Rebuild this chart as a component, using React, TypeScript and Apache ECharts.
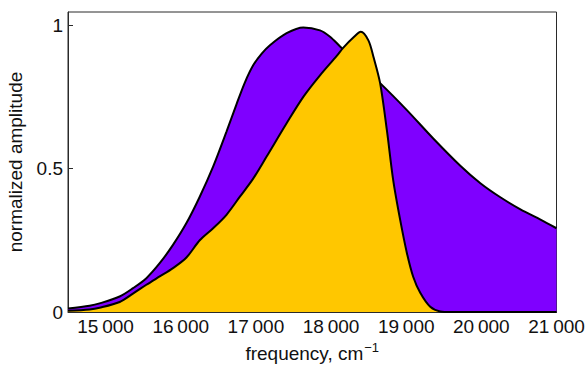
import React, { useEffect, useRef } from "react";
import * as echarts from "echarts";

// Broad (purple) spectrum: frequency (cm^-1) and normalized amplitude
const purpleFreq = [14500, 14787, 14920, 15187, 15364, 15543, 15720, 15897, 16076, 16253, 16431, 16609, 16743, 16853, 16964, 17075, 17187, 17409, 17631, 17853, 17987, 18120, 18350, 18653, 19009, 19360, 19720, 19987, 20253, 20520, 20787, 21000];
const purpleAmp = [0.012, 0.022, 0.03, 0.054, 0.083, 0.118, 0.17, 0.234, 0.31, 0.402, 0.507, 0.629, 0.725, 0.8, 0.86, 0.9, 0.93, 0.972, 0.992, 0.982, 0.96, 0.926, 0.87, 0.798, 0.704, 0.605, 0.51, 0.449, 0.4, 0.358, 0.322, 0.292];

// Narrow (yellow) spectrum
const yellowFreq = [14500, 14787, 14920, 15187, 15364, 15543, 15720, 15897, 16076, 16253, 16431, 16609, 16787, 16964, 17143, 17409, 17631, 17853, 18076, 18164, 18300, 18396, 18497, 18564, 18653, 18743, 18827, 18920, 19009, 19093, 19187, 19320, 19453, 19600, 20000, 21000];
const yellowAmp = [0.004, 0.009, 0.015, 0.035, 0.064, 0.095, 0.124, 0.153, 0.19, 0.25, 0.292, 0.339, 0.402, 0.465, 0.542, 0.658, 0.75, 0.825, 0.893, 0.922, 0.958, 0.977, 0.947, 0.89, 0.798, 0.634, 0.46, 0.321, 0.206, 0.123, 0.067, 0.018, 0.002, 0, 0, 0];

const xTicks = [15000, 16000, 17000, 18000, 19000, 20000, 21000];
const yTicks = [0, 0.5, 1];
const yTickLabels = ["0", "0.5", "1"];

const FONT = "'Liberation Sans', Arial, Helvetica, sans-serif";

export default function App() {
  const ref = useRef<HTMLDivElement>(null);
  useEffect(() => {
    document.body.style.margin = "0";
    const chart = echarts.init(ref.current!, null, { renderer: "svg" });
    const purple = purpleFreq.map((f, i) => [f, purpleAmp[i]]);
    const yellow = yellowFreq.map((f, i) => [f, yellowAmp[i]]);
    chart.setOption({
      animation: false,
      backgroundColor: "#ffffff",
      grid: {
        left: 68,
        right: 29.5,
        top: 12,
        bottom: 58,
        show: true,
        borderColor: "#2a2a2a",
        borderWidth: 1,
        outerBoundsMode: "none",
      },
      xAxis: {
        type: "value",
        min: 14500,
        max: 21000,
        name: "{a|frequency, cm}{b|\u22121}",
        nameLocation: "middle",
        nameGap: 27,
        nameTextStyle: {
          rich: {
            a: { fontFamily: FONT, fontSize: 19, color: "#111" },
            b: { fontFamily: FONT, fontSize: 13, color: "#111", padding: [0, 0, 12, 1] },
          },
        },
        axisLine: { show: true, lineStyle: { color: "#2a2a2a", width: 1 } },
        axisTick: {
          show: true,
          inside: true,
          length: 5,
          customValues: xTicks,
          lineStyle: { color: "#2a2a2a" },
        },
        axisLabel: {
          customValues: xTicks,
          margin: 5,
          fontFamily: FONT,
          fontSize: 19,
          color: "#111",
          formatter: (v: number) => {
            const s = String(v);
            return s.slice(0, s.length - 3) + "\u2009" + s.slice(-3);
          },
        },
        splitLine: { show: false },
      },
      yAxis: {
        type: "value",
        min: 0,
        max: 1.046,
        name: "normalized amplitude",
        nameLocation: "middle",
        nameGap: 43,
        nameTextStyle: { fontFamily: FONT, fontSize: 19, color: "#111" },
        axisLine: { show: true, lineStyle: { color: "#2a2a2a", width: 1 } },
        axisTick: {
          show: true,
          inside: true,
          length: 5,
          customValues: yTicks,
          lineStyle: { color: "#2a2a2a" },
        },
        axisLabel: {
          customValues: yTicks,
          margin: 5,
          fontFamily: FONT,
          fontSize: 19,
          color: "#111",
          formatter: (v: number) => {
            const i = yTicks.indexOf(v);
            return i >= 0 ? yTickLabels[i] : "";
          },
        },
        splitLine: { show: false },
      },
      series: [
        {
          type: "line",
          data: purple,
          smooth: 0.3,
          symbol: "none",
          lineStyle: { color: "#000", width: 2 },
          areaStyle: { color: "#7f00ff", opacity: 1 },
          z: 2,
        },
        {
          type: "line",
          data: yellow,
          smooth: 0.3,
          symbol: "none",
          lineStyle: { color: "#000", width: 2 },
          areaStyle: { color: "#ffc700", opacity: 1 },
          z: 3,
        },
      ],
    });
    return () => chart.dispose();
  }, []);
  return (
    <div
      ref={ref}
      style={{ position: "absolute", left: 0, top: 0, width: 586, height: 370 }}
    />
  );
}
